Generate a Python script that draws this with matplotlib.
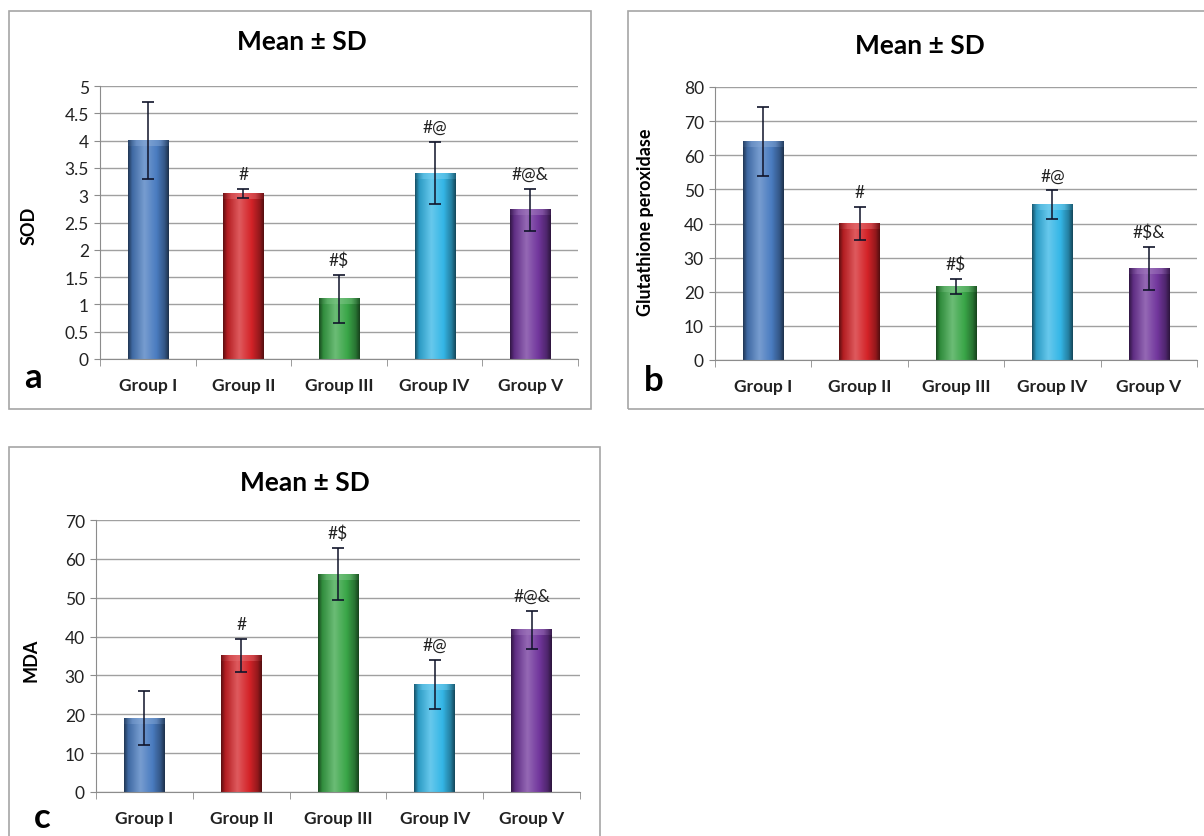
import numpy as np
import matplotlib
matplotlib.use("Agg")
import matplotlib.pyplot as plt
from matplotlib.colors import LinearSegmentedColormap, to_rgb
from matplotlib.patches import Rectangle

plt.rcParams['font.family'] = ['Lato', 'DejaVu Sans']

groups = ["Group I", "Group II", "Group III", "Group IV", "Group V"]
bar_colors = ["#4a7cc0", "#d42328", "#3aa648", "#34b6e6", "#71369c"]

sod_mean = [4.0, 3.03, 1.1, 3.4, 2.73]
sod_sd = [0.7, 0.09, 0.44, 0.57, 0.38]
sod_marks = ["", "#", "#$", "#@", "#@&"]

gpx_mean = [64.0, 40.0, 21.5, 45.5, 26.8]
gpx_sd = [10.2, 4.8, 2.2, 4.2, 6.4]
gpx_marks = ["", "#", "#$", "#@", "#$&"]

mda_mean = [19.0, 35.2, 56.0, 27.7, 41.7]
mda_sd = [6.9, 4.3, 6.7, 6.3, 5.0]
mda_marks = ["", "#", "#$", "#@", "#@&"]

W, H = 1204, 837
fig = plt.figure(figsize=(W / 100, H / 100), dpi=100)
fig.patch.set_facecolor("white")


def px_axes(left, top, right, bottom):
    return fig.add_axes([left / W, 1 - bottom / H, (right - left) / W, (bottom - top) / H])


def frame(left, top, right, bottom):
    fig.add_artist(Rectangle((left / W, 1 - bottom / H), (right - left) / W, (bottom - top) / H,
                             transform=fig.transFigure, fill=False, edgecolor="#a6a6a6", lw=1.2))


def shaded_bar(ax, x, h, color, width, ymax):
    base = np.array(to_rgb(color))
    light = base + (1 - base) * 0.25
    cmap = LinearSegmentedColormap.from_list(
        "b", [(0, base * 0.45), (0.1, base * 0.85), (0.4, light), (0.7, base),
              (0.9, base * 0.7), (1, base * 0.4)])
    grad = np.linspace(0, 1, 64).reshape(1, -1)
    ax.imshow(grad, cmap=cmap, extent=(x - width / 2, x + width / 2, 0, h),
              aspect="auto", zorder=2, interpolation="bilinear")
    # soft highlight along the top of the bar
    cap = ymax * 0.02
    top_cmap = LinearSegmentedColormap.from_list(
        "t", [(0, base * 0.6), (0.2, light), (0.5, base + (1 - base) * 0.35), (0.8, light), (1, base * 0.6)])
    ax.imshow(grad, cmap=top_cmap, extent=(x - width / 2, x + width / 2, h - cap, h),
              aspect="auto", zorder=2.1, interpolation="bilinear", alpha=0.6)


def panel(ax, means, sds, marks, ymax, step, fmt):
    x = np.arange(len(groups))
    width = 0.42
    for xi, m, c in zip(x, means, bar_colors):
        shaded_bar(ax, xi, m, c, width, ymax)
    ax.errorbar(x, means, yerr=sds, fmt="none", ecolor="#10142a", elinewidth=1.1,
                capsize=4, capthick=1.2, zorder=3)
    for xi, m, s, t in zip(x, means, sds, marks):
        if t:
            ax.annotate(t, (xi, m + s), xytext=(0, 5), textcoords="offset points",
                        ha="center", va="bottom", fontsize=12.5, color="#222222")
    ax.set_xlim(-0.5, len(groups) - 0.5)
    ax.set_ylim(0, ymax)
    ticks = np.arange(0, ymax + step / 2, step)
    ax.set_yticks(ticks)
    ax.set_yticklabels([fmt(t) for t in ticks], fontsize=12.5, color="#222222")
    ax.set_xticks(x)
    ax.set_xticklabels(groups, fontsize=12.5, fontweight="bold", color="#222222")
    ax.set_xticks(np.arange(-0.5, len(groups)), minor=True)
    ax.tick_params(axis="x", which="major", length=0, pad=13)
    ax.tick_params(axis="x", which="minor", length=5, color="#8c8c8c", direction="out")
    ax.tick_params(axis="y", length=4, color="#8c8c8c", pad=4)
    ax.grid(axis="y", color="#a0a0a0", lw=1)
    ax.set_axisbelow(True)
    for side in ("top", "right"):
        ax.spines[side].set_visible(False)
    for side in ("left", "bottom"):
        ax.spines[side].set_color("#8c8c8c")


def num(t):
    return f"{t:g}"


# panel a: SOD
frame(9, 12, 591, 410)
ax_a = px_axes(100, 87, 578, 360)
panel(ax_a, sod_mean, sod_sd, sod_marks, 5, 0.5, num)
fig.text(302 / W, 1 - 42 / H, "Mean \u00b1 SD", fontsize=19, fontweight="bold", ha="center", va="center")
fig.text(29 / W, 1 - 226 / H, "SOD", fontsize=13, fontweight="bold", rotation=90, ha="center", va="center")
fig.text(33 / W, 1 - 378 / H, "a", fontsize=25, fontweight="bold", ha="center", va="center")

# panel b: glutathione peroxidase
frame(628, 12, 1210, 410)
ax_b = px_axes(715, 88, 1197, 361)
panel(ax_b, gpx_mean, gpx_sd, gpx_marks, 80, 10, num)
fig.text(920 / W, 1 - 46 / H, "Mean \u00b1 SD", fontsize=19, fontweight="bold", ha="center", va="center")
fig.text(645 / W, 1 - 222 / H, "Glutathione peroxidase", fontsize=13, fontweight="bold", rotation=90,
         ha="center", va="center")
fig.text(654 / W, 1 - 381 / H, "b", fontsize=25, fontweight="bold", ha="center", va="center")

# panel c: MDA
frame(9, 448, 600, 845)
ax_c = px_axes(96, 521, 580, 793)
panel(ax_c, mda_mean, mda_sd, mda_marks, 70, 10, num)
fig.text(305 / W, 1 - 483 / H, "Mean \u00b1 SD", fontsize=19, fontweight="bold", ha="center", va="center")
fig.text(31 / W, 1 - 660 / H, "MDA", fontsize=13, fontweight="bold", rotation=90, ha="center", va="center")
fig.text(42 / W, 1 - 818 / H, "c", fontsize=25, fontweight="bold", ha="center", va="center")

fig.savefig("out.png", dpi=100)
